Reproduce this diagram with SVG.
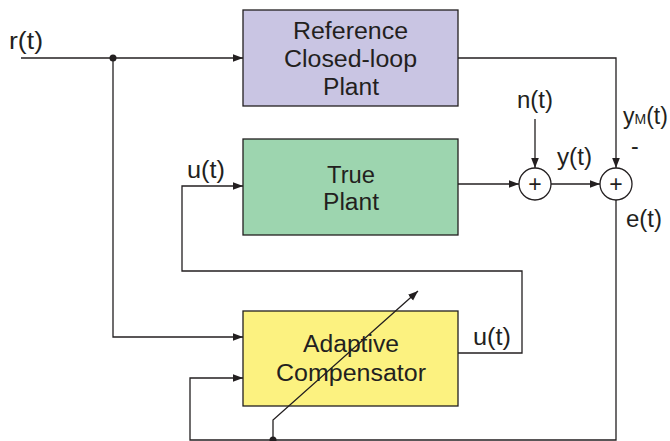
<svg xmlns="http://www.w3.org/2000/svg" width="670" height="441" viewBox="0 0 670 441">
  <defs>
    <marker id="arrow" viewBox="0 0 10 10" refX="10" refY="5" markerWidth="10" markerHeight="10" markerUnits="userSpaceOnUse" orient="auto">
      <path d="M0,1.2 L10,5 L0,8.8 Z" fill="#231f20"/>
    </marker>
    <style>
      .box { stroke: #231f20; stroke-width: 1.3; }
      .wire { fill: none; stroke: #231f20; stroke-width: 1.3; }
      .arr { marker-end: url(#arrow); }
      .lbl { font-family: "Liberation Sans", Arial, sans-serif; font-size: 23px; fill: #231f20; }
      .mid { text-anchor: middle; }
      .sum { fill: #ffffff; stroke: #231f20; stroke-width: 1.3; }
    </style>
  </defs>
  <rect width="670" height="441" fill="#ffffff"/>

  <!-- connectors -->
  <g id="connectors">
    <path class="wire arr" d="M21,58 H243"/>
    <path class="wire arr" d="M113,58 V337 H243"/>
    <path class="wire arr" d="M458,58 H616 V168"/>
    <path class="wire arr" d="M458,184 H519"/>
    <path class="wire arr" d="M535,119 V168"/>
    <path class="wire arr" d="M551,184 H600"/>
    <path class="wire arr" d="M616,200 V440 H190 V378 H243"/>
    <path class="wire arr" d="M458,353 H522 V271 H182 V186 H243"/>
    <circle cx="113" cy="58" r="3.5" fill="#231f20"/>
  </g>

  <g id="reference-plant">
    <rect class="box" x="243" y="10" width="215" height="96" fill="#c9c5e3"/>
    <text class="lbl mid" x="350.5" y="39" textLength="115" lengthAdjust="spacingAndGlyphs">Reference</text>
    <text class="lbl mid" x="350.5" y="67" textLength="133" lengthAdjust="spacingAndGlyphs">Closed-loop</text>
    <text class="lbl mid" x="351" y="95" textLength="56" lengthAdjust="spacingAndGlyphs">Plant</text>
  </g>

  <g id="true-plant">
    <rect class="box" x="243" y="139" width="215" height="96" fill="#9dd5af"/>
    <text class="lbl mid" x="351" y="183" textLength="48" lengthAdjust="spacingAndGlyphs">True</text>
    <text class="lbl mid" x="351" y="210" textLength="56" lengthAdjust="spacingAndGlyphs">Plant</text>
  </g>

  <g id="adaptive-compensator">
    <rect class="box" x="243" y="311" width="215" height="95" fill="#fcf280"/>
    <text class="lbl mid" x="351" y="352" textLength="96" lengthAdjust="spacingAndGlyphs">Adaptive</text>
    <text class="lbl mid" x="351" y="381" textLength="150" lengthAdjust="spacingAndGlyphs">Compensator</text>
  </g>

  <g id="sum-noise">
    <circle class="sum" cx="535" cy="184" r="16"/>
    <text class="lbl mid" x="535" y="192">+</text>
  </g>

  <g id="sum-error">
    <circle class="sum" cx="616" cy="184" r="16"/>
    <text class="lbl mid" x="616" y="192">+</text>
  </g>

  <!-- adjustable-gain arrow crossing the compensator, fed from the error line -->
  <g id="adaptation">
    <path class="wire arr" d="M273,440 V420 L418,291"/>
    <circle cx="273" cy="440" r="3.5" fill="#231f20"/>
  </g>

  <!-- signal labels -->
  <g id="labels">
    <text class="lbl" x="9" y="49" textLength="34" lengthAdjust="spacingAndGlyphs">r(t)</text>
    <text class="lbl" x="187" y="178" textLength="38" lengthAdjust="spacingAndGlyphs">u(t)</text>
    <text class="lbl" x="517" y="108" textLength="36" lengthAdjust="spacingAndGlyphs">n(t)</text>
    <text class="lbl" x="557" y="165" textLength="35" lengthAdjust="spacingAndGlyphs">y(t)</text>
    <text class="lbl" x="623" y="124">y<tspan font-size="14">M</tspan>(t)</text>
    <text class="lbl" x="631" y="154">-</text>
    <text class="lbl" x="626" y="227" textLength="36" lengthAdjust="spacingAndGlyphs">e(t)</text>
    <text class="lbl" x="473" y="345" textLength="38" lengthAdjust="spacingAndGlyphs">u(t)</text>
  </g>
</svg>
